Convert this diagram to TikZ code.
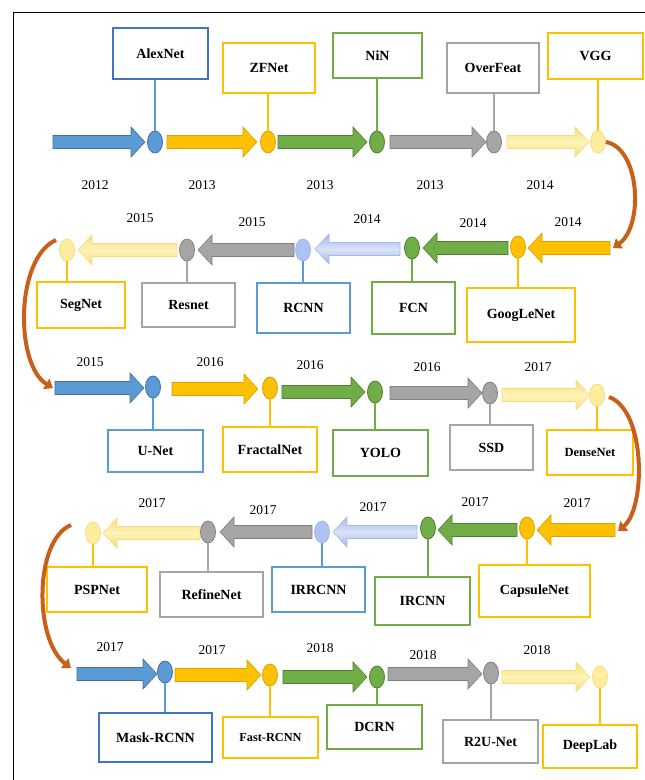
\documentclass[tikz,border=0pt]{standalone}
\usepackage{fontspec}
\setmainfont{Liberation Serif}
\usetikzlibrary{shapes.geometric,arrows.meta}
\definecolor{cblue}{HTML}{5B9BD5}
\definecolor{cblueD}{HTML}{41719C}
\definecolor{cboxblue}{HTML}{4472C4}
\definecolor{cgold}{HTML}{FFC000}
\definecolor{cgoldD}{HTML}{D9A300}
\definecolor{cgreen}{HTML}{70AD47}
\definecolor{cgreenD}{HTML}{507E32}
\definecolor{cgray}{HTML}{A5A5A5}
\definecolor{cgrayD}{HTML}{808080}
\definecolor{cpale}{HTML}{FFF4B8}
\definecolor{cpaleD}{HTML}{F5DD7E}
\definecolor{cpaleDot}{HTML}{FFEC9E}
\definecolor{clb}{HTML}{D9E3F8}
\definecolor{clbD}{HTML}{A3B8EC}
\definecolor{clbDot}{HTML}{AFC3F2}
\definecolor{corange}{HTML}{C8601A}
\newcommand\rarrow[4]{\path[#4] (#1,#3-6.5) -- (#2-14,#3-6.5) -- (#2-14,#3-15) -- (#2,#3) -- (#2-14,#3+15) -- (#2-14,#3+6.5) -- (#1,#3+6.5) -- cycle;}
\newcommand\larrow[4]{\path[#4] (#1,#3-6.5) -- (#2+14,#3-6.5) -- (#2+14,#3-15) -- (#2,#3) -- (#2+14,#3+15) -- (#2+14,#3+6.5) -- (#1,#3+6.5) -- cycle;}
\tikzset{
  box/.style={draw, line width=1.8pt, fill=white, inner sep=0pt, font=\bfseries\fontsize{14}{16}\selectfont},
  dot/.style={ellipse, minimum width=15pt, minimum height=22pt, inner sep=0pt, line width=0.8pt},
  year/.style={inner sep=0pt, font=\fontsize{13.5}{15}\selectfont},
  link/.style={line width=1.4pt},
  curve/.style={corange, line width=4pt, -{Triangle[length=8pt,width=12pt]}},
  ablue/.style={fill=cblue, draw=cblueD, line width=0.6pt},
  agold/.style={fill=cgold, draw=cgoldD, line width=0.6pt},
  agreen/.style={fill=cgreen, draw=cgreenD, line width=0.6pt},
  agray/.style={fill=cgray, draw=cgrayD, line width=0.6pt},
  apale/.style={top color=cpaleD, bottom color=cpaleD, middle color=cpale, draw=cpaleD, line width=0.6pt},
  alb/.style={top color=clbD, bottom color=clbD, middle color=clb, draw=clbD, line width=0.6pt},
  dblue/.style={dot, fill=cblue, draw=cblueD},
  dgold/.style={dot, fill=cgold, draw=cgoldD},
  dgreen/.style={dot, fill=cgreen, draw=cgreenD},
  dgray/.style={dot, fill=cgray, draw=cgrayD},
  dpale/.style={dot, fill=cpaleDot, draw=cpaleD},
  dlb/.style={dot, fill=clbDot, draw=clbD},
}
\begin{document}
\begin{tikzpicture}[x=1pt,y=-1pt]
\useasboundingbox (0,0) rectangle (645,780);
\fill[white] (0,0) rectangle (645,780);
\draw[line width=1pt] (13,780) -- (13,12) -- (645,12);

% ---------- Row 1 ----------
\rarrow{53}{145}{142}{ablue}
\rarrow{167}{257}{142}{agold}
\rarrow{278}{367}{142}{agreen}
\rarrow{390}{486}{142}{agray}
\rarrow{507}{589}{142}{apale}
\node[box, draw=cboxblue, minimum width=95pt, minimum height=51pt] (b1) at (160.5,53.5) {AlexNet};
\node[box, draw=cgold, minimum width=92pt, minimum height=50pt] (b2) at (269,68) {ZFNet};
\node[box, draw=cgreen, minimum width=89pt, minimum height=45pt] (b3) at (377.5,55.5) {NiN};
\node[box, draw=cgray, minimum width=92pt, minimum height=50pt] (b4) at (493,68) {OverFeat};
\node[box, draw=cgold, minimum width=95pt, minimum height=46pt] (b5) at (595.5,56) {VGG};
\node[dblue] (d1) at (155,142) {};
\node[dgold] (d2) at (268,142) {};
\node[dgreen] (d3) at (377,142) {};
\node[dgray] (d4) at (494,142) {};
\node[dpale] (d5) at (598,142) {};
\draw[link, cblue] (d1.north) -- (d1.north |- b1.south);
\draw[link, cgold] (d2.north) -- (d2.north |- b2.south);
\draw[link, cgreen] (d3.north) -- (d3.north |- b3.south);
\draw[link, cgray] (d4.north) -- (d4.north |- b4.south);
\draw[link, cgold] (d5.north) -- (d5.north |- b5.south);
\node[year] (y1) at (95,185) {2012};
\node[year] (y2) at (202,185) {2013};
\node[year] (y3) at (320,185) {2013};
\node[year] (y4) at (430,185) {2013};
\node[year] (y5) at (540,185) {2014};

% ---------- Row 2 ----------
\larrow{610}{528}{248}{agold}
\larrow{508}{423}{248}{agreen}
\larrow{400}{315}{249}{alb}
\larrow{294}{198}{250}{agray}
\larrow{177}{78}{250}{apale}
\node[box, draw=cgold, minimum width=108pt, minimum height=54pt] (b6) at (521,315) {GoogLeNet};
\node[box, draw=cgreen, minimum width=83pt, minimum height=52pt] (b7) at (413.5,308) {FCN};
\node[box, draw=cblue, minimum width=93pt, minimum height=50pt] (b8) at (303.5,308) {RCNN};
\node[box, draw=cgray, minimum width=93pt, minimum height=44pt] (b9) at (188.5,305) {Resnet};
\node[box, draw=cgold, minimum width=88pt, minimum height=46pt] (b10) at (81,305) {SegNet};
\node[dgold] (d6) at (518,247) {};
\node[dgreen] (d7) at (412,248) {};
\node[dlb] (d8) at (303,250) {};
\node[dgray] (d9) at (187,250) {};
\node[dpale] (d10) at (67,250) {};
\draw[link, cgold] (d6.south) -- (d6.south |- b6.north);
\draw[link, cgreen] (d7.south) -- (d7.south |- b7.north);
\draw[link, cblue] (d8.south) -- (d8.south |- b8.north);
\draw[link, cgray] (d9.south) -- (d9.south |- b9.north);
\draw[link, cgold] (d10.south) -- (d10.south |- b10.north);
\node[year] (y6) at (568,222) {2014};
\node[year] (y7) at (473,223) {2014};
\node[year] (y8) at (367,219) {2014};
\node[year] (y9) at (252,222) {2015};
\node[year] (y10) at (140,218) {2015};

% ---------- Row 3 ----------
\rarrow{55}{144}{388}{ablue}
\rarrow{172}{258}{389}{agold}
\rarrow{282}{365}{392}{agreen}
\rarrow{390}{482}{393}{agray}
\rarrow{502}{590}{395}{apale}
\node[box, draw=cblue, minimum width=95pt, minimum height=42pt] (b11) at (155.5,451) {U-Net};
\node[box, draw=cgold, minimum width=94pt, minimum height=45pt] (b12) at (270,449.5) {FractalNet};
\node[box, draw=cgreen, minimum width=95pt, minimum height=46pt] (b13) at (380.5,453) {YOLO};
\node[box, draw=cgray, minimum width=83pt, minimum height=45pt] (b14) at (491.5,447.5) {SSD};
\node[box, draw=cgold, minimum width=86pt, minimum height=45pt, font=\bfseries\fontsize{12.5}{14}\selectfont] (b15) at (590,452.5) {DenseNet};
\node[dblue] (d11) at (153,387) {};
\node[dgold] (d12) at (270,388) {};
\node[dgreen] (d13) at (375,392) {};
\node[dgray] (d14) at (490,393) {};
\node[dpale] (d15) at (597,395) {};
\draw[link, cblue] (d11.south) -- (d11.south |- b11.north);
\draw[link, cgold] (d12.south) -- (d12.south |- b12.north);
\draw[link, cgreen] (d13.south) -- (d13.south |- b13.north);
\draw[link, cgray] (d14.south) -- (d14.south |- b14.north);
\draw[link, cgold] (d15.south) -- (d15.south |- b15.north);
\node[year] (y11) at (90,362) {2015};
\node[year] (y12) at (210,362) {2016};
\node[year] (y13) at (310,365) {2016};
\node[year] (y14) at (427,367) {2016};
\node[year] (y15) at (538,367) {2017};

% ---------- Row 4 ----------
\larrow{615}{537}{530}{agold}
\larrow{517}{438}{530}{agreen}
\larrow{417}{333}{532}{alb}
\larrow{312}{220}{532}{agray}
\larrow{200}{103}{533}{apale}
\node[box, draw=cgold, minimum width=111pt, minimum height=52pt] (b16) at (534.5,591) {CapsuleNet};
\node[box, draw=cgreen, minimum width=95pt, minimum height=48pt] (b17) at (422.5,601) {IRCNN};
\node[box, draw=cblue, minimum width=93pt, minimum height=45pt] (b18) at (318.5,589.5) {IRRCNN};
\node[box, draw=cgray, minimum width=103pt, minimum height=45pt] (b19) at (211.5,594.5) {RefineNet};
\node[box, draw=cgold, minimum width=100pt, minimum height=45pt] (b20) at (97,589.5) {PSPNet};
\node[dgold] (d16) at (527,528) {};
\node[dgreen] (d17) at (428,528) {};
\node[dlb] (d18) at (322,532) {};
\node[dgray] (d19) at (208,532) {};
\node[dpale] (d20) at (93,533) {};
\draw[link, cgold] (d16.south) -- (d16.south |- b16.north);
\draw[link, cgreen] (d17.south) -- (d17.south |- b17.north);
\draw[link, cblue] (d18.south) -- (d18.south |- b18.north);
\draw[link, cgray] (d19.south) -- (d19.south |- b19.north);
\draw[link, cgold] (d20.south) -- (d20.south |- b20.north);
\node[year] (y16) at (577,503) {2017};
\node[year] (y17) at (475,502) {2017};
\node[year] (y18) at (373,507) {2017};
\node[year] (y19) at (263,510) {2017};
\node[year] (y20) at (152,503) {2017};

% ---------- Row 5 ----------
\rarrow{77}{157}{674}{ablue}
\rarrow{175}{261}{675}{agold}
\rarrow{283}{367}{677}{agreen}
\rarrow{388}{482}{674}{agray}
\rarrow{502}{590}{677}{apale}
\node[box, draw=cboxblue, minimum width=113pt, minimum height=49pt] (b21) at (155.5,737.5) {Mask-RCNN};
\node[box, draw=cgold, minimum width=95pt, minimum height=41pt, font=\bfseries\fontsize{12.3}{14}\selectfont] (b22) at (270.5,737.5) {Fast-RCNN};
\node[box, draw=cgreen, minimum width=95pt, minimum height=44pt] (b23) at (374.5,727) {DCRN};
\node[box, draw=cgray, minimum width=95pt, minimum height=43pt] (b24) at (490.5,741.5) {R2U-Net};
\node[box, draw=cgold, minimum width=94pt, minimum height=43pt] (b25) at (590,746.5) {DeepLab};
\node[dblue] (d21) at (165,672) {};
\node[dgold] (d22) at (270,675) {};
\node[dgreen] (d23) at (377,677) {};
\node[dgray] (d24) at (491,673) {};
\node[dpale] (d25) at (600,677) {};
\draw[link, cblue] (d21.south) -- (d21.south |- b21.north);
\draw[link, cgold] (d22.south) -- (d22.south |- b22.north);
\draw[link, cgreen] (d23.south) -- (d23.south |- b23.north);
\draw[link, cgray] (d24.south) -- (d24.south |- b24.north);
\draw[link, cgold] (d25.south) -- (d25.south |- b25.north);
\node[year] (y21) at (110,647) {2017};
\node[year] (y22) at (212,650) {2017};
\node[year] (y23) at (320,648) {2018};
\node[year] (y24) at (423,655) {2018};
\node[year] (y25) at (537,650) {2018};

% ---------- turn curves ----------
\coordinate (t1) at (613,248);
\coordinate (t2) at (53,388);
\coordinate (t3) at (618,531);
\coordinate (t4) at (71,668);
\draw[curve] (d5.east) .. controls (640,148) and (644,226) .. (t1);
\draw[curve] (d10.west) ++(-3,-10) .. controls (15,258) and (15,365) .. (t2);
\draw[curve] (d15.east) ++(4,2) .. controls (646,410) and (646,508) .. (t3);
\draw[curve] (d20.west) ++(-14,-8) .. controls (34,540) and (34,640) .. (t4);
\end{tikzpicture}
\end{document}
